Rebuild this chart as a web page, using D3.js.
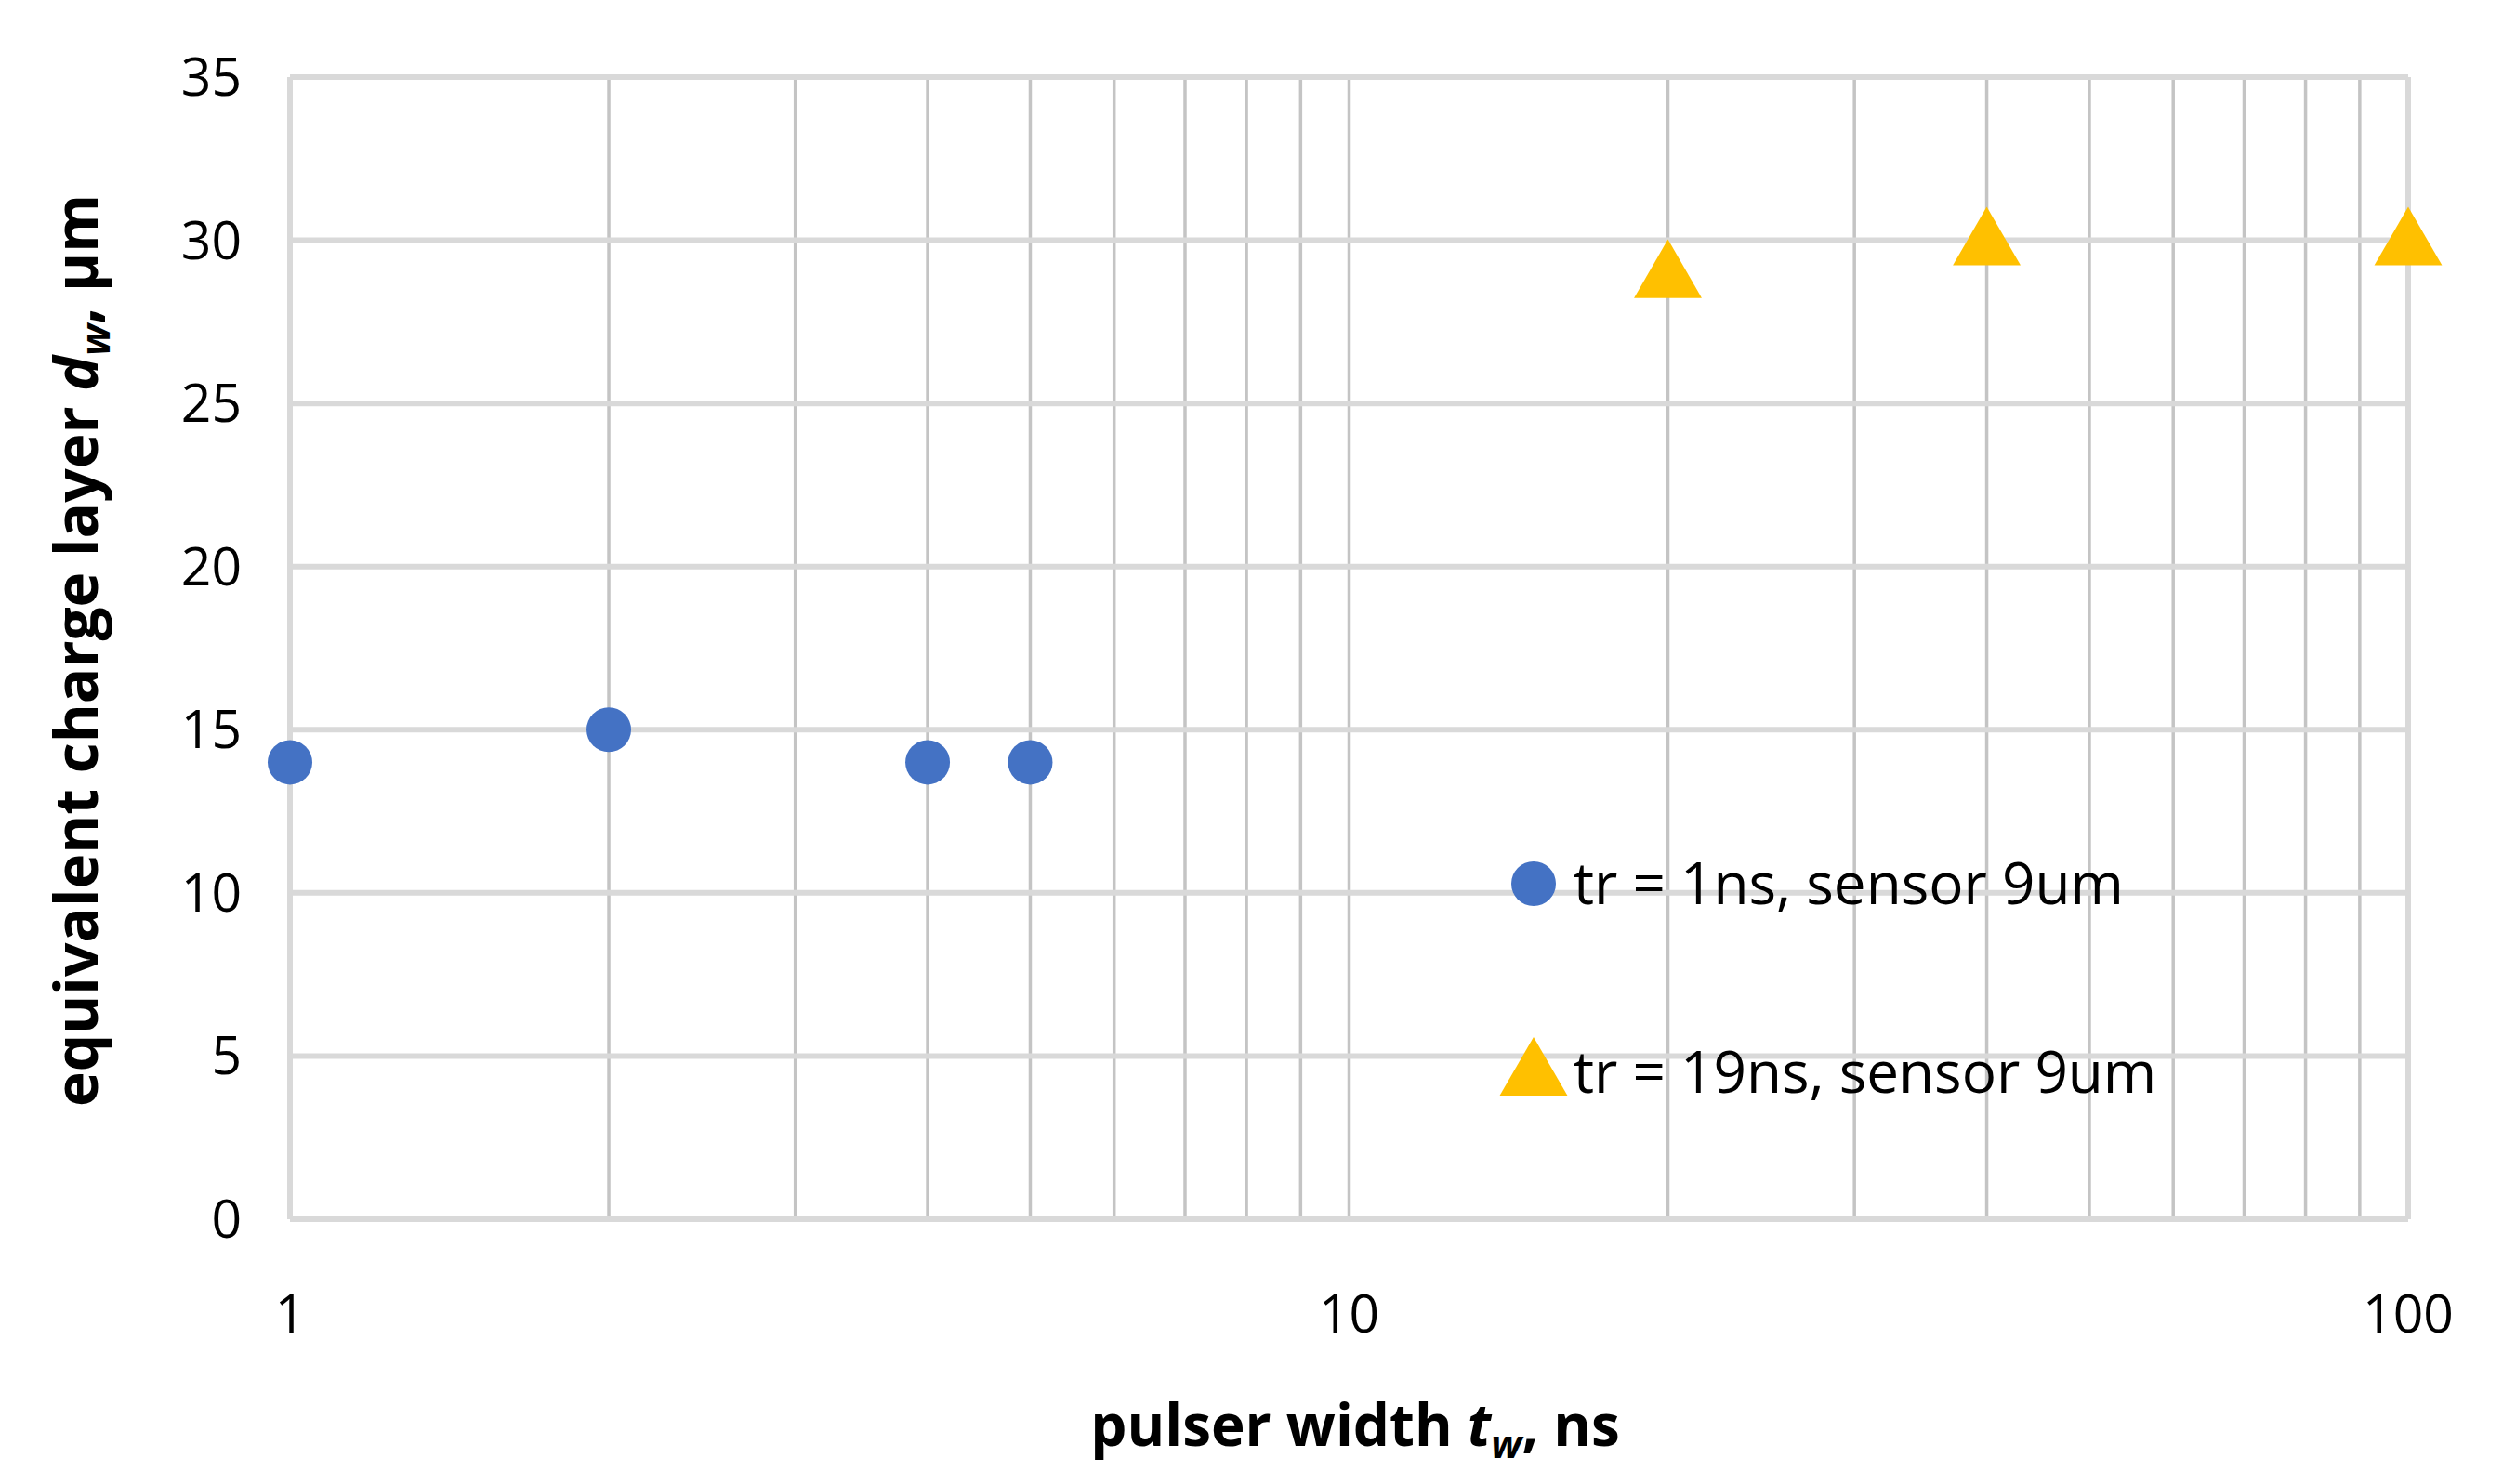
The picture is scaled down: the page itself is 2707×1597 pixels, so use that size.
<!DOCTYPE html>
<html>
<head>
<meta charset="utf-8">
<script src="https://cdn.jsdelivr.net/npm/d3@7"></script>
<style>
  body { margin: 0; background: #fff; }
  text { font-family: "Open Sans", "Noto Sans", sans-serif; }
</style>
</head>
<body>
<svg id="chart" width="2707" height="1597"></svg>
<script>
const series1X = [1, 2, 4, 5];
const series1Y = [14, 15, 14, 14];
const series2X = [20, 40, 100];
const series2Y = [29, 30, 30];
const yTicks = [0, 5, 10, 15, 20, 25, 30, 35];
const xLabels = [1, 10, 100];
const legendNames = ["tr = 1ns, sensor 9um", "tr = 19ns, sensor 9um"];

const svg = d3.select("svg#chart");
const margin = { top: 83, right: 116, bottom: 285, left: 312 };
const width = +svg.attr("width");
const height = +svg.attr("height");
const chartWidth = width - margin.left - margin.right;
const chartHeight = height - margin.top - margin.bottom;

const x = d3.scaleLog().domain([1, 100]).range([0, chartWidth]);
const y = d3.scaleLinear().domain([0, 35]).range([chartHeight, 0]);

const g = svg.append("g").attr("transform", `translate(${margin.left},${margin.top})`);

// vertical minor/major gridlines
const xGrid = [];
for (let d = 1; d < 100; d *= 10) for (let k = 1; k <= 10; k++) xGrid.push(d * k);
g.selectAll("line.vg").data(Array.from(new Set(xGrid))).enter().append("line")
  .attr("x1", d => x(d)).attr("x2", d => x(d))
  .attr("y1", 0).attr("y2", chartHeight)
  .style("stroke", d => (d === 1 || d === 100) ? "#d9d9d9" : "#c4c4c4")
  .style("stroke-width", d => (d === 1 || d === 100) ? 6 : 3.5);

g.selectAll("line.hg").data(yTicks).enter().append("line")
  .attr("x1", 0).attr("x2", chartWidth)
  .attr("y1", d => y(d)).attr("y2", d => y(d))
  .style("stroke", "#d9d9d9").style("stroke-width", 6);

// tick labels
g.selectAll("text.yt").data(yTicks).enter().append("text")
  .attr("x", -52).attr("y", d => y(d)).attr("dy", "0.35em")
  .attr("text-anchor", "end").style("font-size", "57px").text(d => d);
g.selectAll("text.xt").data(xLabels).enter().append("text")
  .attr("x", d => x(d)).attr("y", chartHeight + 102).attr("dy", "0.35em")
  .attr("text-anchor", "middle").style("font-size", "57px").text(d => d);

// axis titles
const xt = svg.append("text").attr("x", 1458).attr("y", 1556)
  .attr("text-anchor", "middle").style("font-size", "62px").style("font-weight", "bold");
xt.append("tspan").text("pulser width ");
xt.append("tspan").style("font-style", "italic").text("t");
xt.append("tspan").style("font-style", "italic").style("font-size", "42px").attr("dy", 13).text("w");
xt.append("tspan").attr("dy", -13).text(", ns");

const yt = svg.append("text").attr("transform", "translate(105,700) rotate(-90)")
  .attr("text-anchor", "middle").style("font-size", "64px").style("font-weight", "bold");
yt.append("tspan").text("equivalent charge layer ");
yt.append("tspan").style("font-style", "italic").text("d");
yt.append("tspan").style("font-style", "italic").style("font-size", "43px").attr("dy", 13).text("w");
yt.append("tspan").attr("dy", -13).text(", µm");

// markers
const tri = d3.symbol().type(d3.symbolTriangle).size(2300);
g.selectAll("circle.s1").data(series1X).enter().append("circle")
  .attr("cx", d => x(d)).attr("cy", (d, i) => y(series1Y[i]))
  .attr("r", 24).attr("fill", "#4472c4");
g.selectAll("path.s2").data(series2X).enter().append("path")
  .attr("d", tri)
  .attr("transform", (d, i) => `translate(${x(d)},${y(series2Y[i]) + 6})`)
  .attr("fill", "#ffc000");

// legend
const legendY = [951, 1154];
svg.append("circle").attr("cx", 1650).attr("cy", legendY[0]).attr("r", 24).attr("fill", "#4472c4");
svg.append("path").attr("d", tri).attr("transform", `translate(1650,${legendY[1] + 4})`).attr("fill", "#ffc000");
svg.selectAll("text.lg").data(legendNames).enter().append("text")
  .attr("x", 1693).attr("y", (d, i) => legendY[i]).attr("dy", "0.35em")
  .style("font-size", "62px").text(d => d);
</script>
</body>
</html>
